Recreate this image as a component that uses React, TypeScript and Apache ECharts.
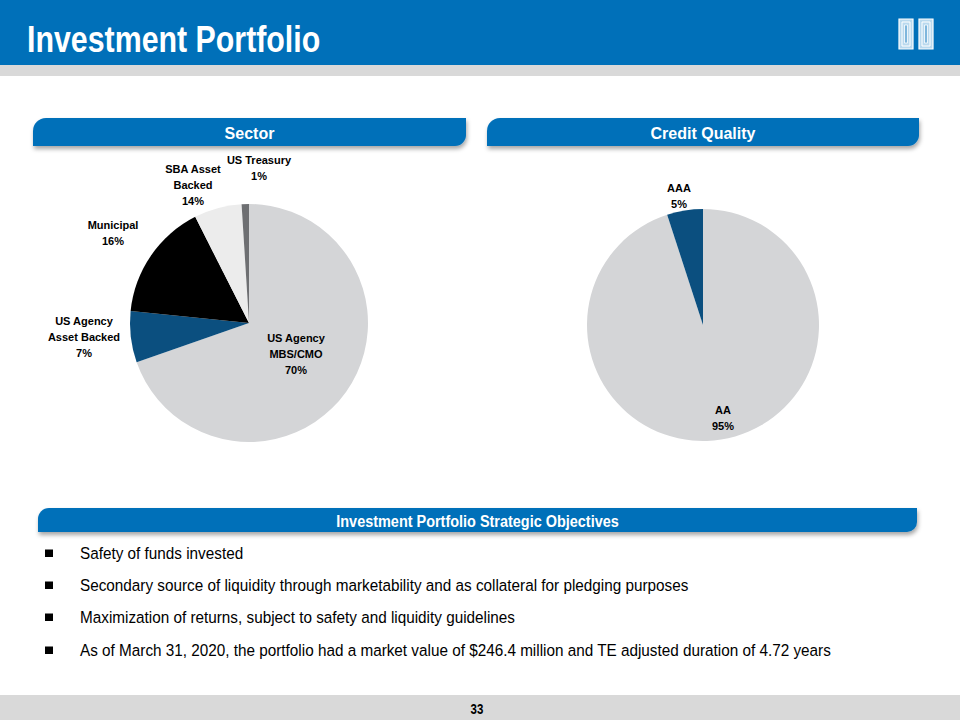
import React, { useEffect, useRef } from "react";
import * as echarts from "echarts";

// ---------- data ----------
const pageTitle = "Investment Portfolio";
const sectorTitle = "Sector";
const creditTitle = "Credit Quality";
const objectivesTitle = "Investment Portfolio Strategic Objectives";
const pageNumber = "33";

const sectorCategories = [
  "US Agency\nMBS/CMO",
  "US Agency\nAsset Backed",
  "Municipal",
  "SBA Asset\nBacked",
  "US Treasury",
];
// slice sizes as drawn in the picture
const sectorShares = [70, 7, 16, 6.5, 1];
// percentages as printed on the labels
const sectorLabels = ["70%", "7%", "16%", "14%", "1%"];

const creditCategories = ["AA", "AAA"];
const creditShares = [95, 5];
const creditLabels = ["95%", "5%"];

const objectives = [
  "Safety of funds invested",
  "Secondary source of liquidity through marketability and as collateral for pledging purposes",
  "Maximization of returns, subject to safety and liquidity guidelines",
  "As of March 31, 2020, the portfolio had a market value of $246.4 million and TE adjusted duration of 4.72 years",
];

// ---------- styles / layout ----------
const BLUE = "#0070b9";
const SANS = '"Liberation Sans", Arial, sans-serif';
const sectorColors = ["#d4d5d7", "#0b4f7f", "#000000", "#ececec", "#6e6f72"];
const creditColors = ["#d4d5d7", "#0b4f7f"];
const sectorLabelPos = [
  [296, 354],
  [84, 337],
  [113, 233],
  [193, 185],
  [259, 168],
];
const creditLabelPos = [
  [723, 418],
  [679, 196],
];
const bulletY = [553, 585, 617, 650];

function pillar(x: number, y: number) {
  return {
    type: "group",
    children: [
      { type: "rect", shape: { x, y, width: 14, height: 30 }, style: { fill: "#b9d9ee", stroke: "#ffffff", lineWidth: 1.2 } },
      { type: "rect", shape: { x: x + 3, y: y + 3, width: 8, height: 24 }, style: { fill: "none", stroke: "#ffffff", lineWidth: 1 } },
      { type: "rect", shape: { x: x + 5.5, y: y + 6, width: 3, height: 18 }, style: { fill: "#7fb6dc", stroke: "#ffffff", lineWidth: 0.8 } },
    ],
  };
}

function banner(x: number, y: number, w: number, h: number, r: number[], text: string, font: any, sx: number) {
  return [
    {
      type: "rect",
      shape: { x, y, width: w, height: h, r },
      style: { fill: BLUE, shadowBlur: 4, shadowOffsetX: 1, shadowOffsetY: 3, shadowColor: "rgba(0,0,0,0.35)" },
    },
    {
      type: "text",
      x: x + w / 2,
      y: y + h / 2 + 1,
      scaleX: sx,
      style: { text, fill: "#ffffff", align: "center", verticalAlign: "middle", ...font },
    },
  ];
}

export default function App() {
  const ref = useRef<HTMLDivElement>(null);

  useEffect(() => {
    if (!ref.current) return;
    const chart = echarts.init(ref.current, undefined, { renderer: "svg" });

    const graphics: any[] = [
      // header
      { type: "rect", shape: { x: 0, y: 0, width: 960, height: 65 }, style: { fill: BLUE } },
      { type: "rect", shape: { x: 0, y: 65, width: 960, height: 11 }, style: { fill: "#d9d9d9" } },
      {
        type: "text",
        x: 27,
        y: 39,
        scaleX: 0.82,
        style: { text: pageTitle, fill: "#ffffff", fontFamily: SANS, fontWeight: "bold", fontSize: 37, verticalAlign: "middle" },
      },
      pillar(899, 19),
      pillar(919, 19),
      // section banners
      ...banner(33, 118, 433, 28, [13, 0, 11, 0], sectorTitle, { fontFamily: SANS, fontWeight: "bold", fontSize: 16 }, 1),
      ...banner(487, 118, 432, 28, [13, 0, 11, 0], creditTitle, { fontFamily: SANS, fontWeight: "bold", fontSize: 16 }, 1),
      ...banner(38, 508, 879, 24, [11, 0, 10, 0], objectivesTitle, { fontFamily: SANS, fontWeight: "bold", fontSize: 17 }, 0.85),
      // footer
      { type: "rect", shape: { x: 0, y: 695, width: 960, height: 25 }, style: { fill: "#d9d9d9" } },
      {
        type: "text",
        x: 477,
        y: 709,
        scaleX: 0.82,
        style: { text: pageNumber, fill: "#000000", fontFamily: SANS, fontWeight: "bold", fontSize: 14, align: "center", verticalAlign: "middle" },
      },
    ];

    objectives.forEach((t, i) => {
      graphics.push({ type: "rect", shape: { x: 45, y: bulletY[i] - 3.5, width: 8, height: 7.5 }, style: { fill: "#000000" } });
      graphics.push({
        type: "text",
        x: 80,
        y: bulletY[i],
        scaleX: 0.9,
        style: { text: t, fill: "#000000", fontFamily: SANS, fontSize: 17, verticalAlign: "middle" },
      });
    });

    const labelStyle = {
      show: true,
      position: "outside",
      color: "#000000",
      fontFamily: SANS,
      fontWeight: "bold",
      fontSize: 11,
      lineHeight: 16,
      align: "center",
      overflow: "none",
    };

    chart.setOption({
      animation: false,
      graphic: graphics,
      series: [
        {
          type: "pie",
          center: [249, 323],
          radius: 119,
          startAngle: 90,
          clockwise: true,
          silent: true,
          label: {
            ...labelStyle,
            formatter: (p: any) => `${p.name}\n${sectorLabels[p.dataIndex]}`,
          },
          labelLine: { show: false },
          labelLayout: (p: any) => ({
            x: sectorLabelPos[p.dataIndex][0],
            y: sectorLabelPos[p.dataIndex][1],
            align: "center",
            verticalAlign: "middle",
          }),
          itemStyle: { borderWidth: 0 },
          data: sectorCategories.map((name, i) => ({
            name,
            value: sectorShares[i],
            itemStyle: { color: sectorColors[i] },
          })),
        },
        {
          type: "pie",
          center: [703, 325],
          radius: 116,
          startAngle: 90,
          clockwise: true,
          silent: true,
          label: {
            ...labelStyle,
            formatter: (p: any) => `${p.name}\n${creditLabels[p.dataIndex]}`,
          },
          labelLine: { show: false },
          labelLayout: (p: any) => ({
            x: creditLabelPos[p.dataIndex][0],
            y: creditLabelPos[p.dataIndex][1],
            align: "center",
            verticalAlign: "middle",
          }),
          itemStyle: { borderWidth: 0 },
          data: creditCategories.map((name, i) => ({
            name,
            value: creditShares[i],
            itemStyle: { color: creditColors[i] },
          })),
        },
      ],
    });

    return () => chart.dispose();
  }, []);

  return (
    <div
      ref={ref}
      style={{ position: "absolute", left: 0, top: 0, width: 960, height: 720, background: "#ffffff" }}
    />
  );
}
